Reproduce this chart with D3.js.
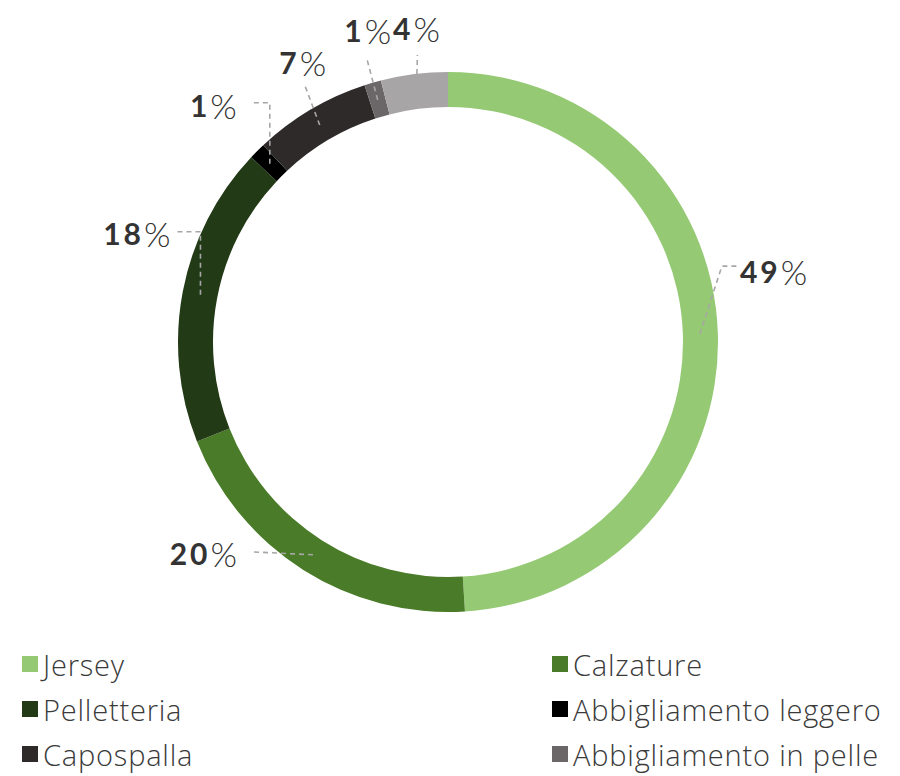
<!DOCTYPE html>
<html>
<head>
<meta charset="utf-8">
<script src="https://cdn.jsdelivr.net/npm/d3@7"></script>
<style>
  body { margin: 0; background: #fff; }
  svg { display: block; }
</style>
</head>
<body>
<svg id="chart"></svg>
<script>
// slices, clockwise from 12 o'clock
let categories = ["Jersey", "Calzature", "Pelletteria", "Abbigliamento leggero", "Capospalla", "Abbigliamento in pelle", "Altro"];
let values = [49, 20, 18, 1, 7, 1, 4];
let colors = ["#95c974", "#4a7b28", "#233a17", "#000000", "#2e2a2a", "#6b6667", "#a8a5a6"];
// legend shows only the first six
let legendItems = categories.slice(0, 6);

// label layout: leader bends relative to the slice centroid, and text anchor
let labelLayout = [
  {pts: [[22, -68], [38, -68]], tx: 40, ty: -63, anchor: "start"},
  {pts: [[-63, -3]], tx: -76, ty: -2, anchor: "end"},
  {pts: [[0, -63], [-25, -63]], tx: -30, ty: -62, anchor: "end"},
  {pts: [[0, -61], [-20, -61]], tx: -33, ty: -59, anchor: "end"},
  {pts: [[-15, -40]], tx: -17, ty: -63, anchor: "middle"},
  {pts: [[-11, -42]], tx: -10, ty: -70, anchor: "middle"},
  {pts: [[1, -37]], tx: 0, ty: -64, anchor: "middle"}
];

let width = 900, height = 776;
let cx = 448, cy = 342;
let outerR = 270, innerR = 235;

let svg = d3.select("#chart")
  .attr("width", width)
  .attr("height", height)
  .attr("viewBox", [0, 0, width, height]);

let pie = d3.pie().sort(null).value(d => d);
let arcs = pie(values);

let arc = d3.arc().innerRadius(innerR).outerRadius(outerR);
let midArc = d3.arc().innerRadius(252).outerRadius(252);

let g = svg.append("g").attr("transform", `translate(${cx},${cy})`);

g.selectAll("path.slice")
  .data(arcs)
  .join("path")
  .attr("class", "slice")
  .attr("d", arc)
  .attr("fill", (d, i) => colors[i]);

// leader lines
let line = d3.line();
g.selectAll("path.leader")
  .data(arcs)
  .join("path")
  .attr("class", "leader")
  .attr("fill", "none")
  .attr("stroke", "#a6a6a6")
  .attr("stroke-width", 1.6)
  .attr("stroke-dasharray", "5,4")
  .attr("d", (d, i) => {
    let c = midArc.centroid(d);
    let pts = [c].concat(labelLayout[i].pts.map(p => [c[0] + p[0], c[1] + p[1]]));
    return line(pts);
  });

// percentage labels
let labels = g.selectAll("text.pct")
  .data(arcs)
  .join("text")
  .attr("class", "pct")
  .attr("font-family", "Lato, 'Open Sans', sans-serif")
  .attr("font-size", 30)
  .attr("fill", "#333333")
  .attr("dominant-baseline", "central")
  .attr("text-anchor", (d, i) => labelLayout[i].anchor)
  .attr("x", (d, i) => midArc.centroid(d)[0] + labelLayout[i].tx)
  .attr("y", (d, i) => midArc.centroid(d)[1] + labelLayout[i].ty);

labels.append("tspan")
  .attr("font-weight", 700)
  .attr("letter-spacing", 3)
  .text(d => d.data);
labels.append("tspan")
  .attr("font-weight", 300)
  .attr("font-size", 34)
  .text("%");

// legend
let colX = d3.scaleOrdinal().domain([0, 1]).range([22, 552]);
let rowY = d3.scalePoint().domain([0, 1, 2]).range([664, 754]);

let leg = svg.append("g")
  .selectAll("g")
  .data(legendItems)
  .join("g")
  .attr("transform", (d, i) => `translate(${colX(i % 2)},${rowY(Math.floor(i / 2))})`);

leg.append("rect")
  .attr("x", 0)
  .attr("y", -8)
  .attr("width", 16)
  .attr("height", 16)
  .attr("fill", (d, i) => colors[i]);

leg.append("text")
  .attr("x", 21)
  .attr("y", 0)
  .attr("dominant-baseline", "central")
  .attr("font-family", "'Open Sans', sans-serif")
  .attr("font-weight", 300)
  .attr("font-size", 29)
  .attr("letter-spacing", 0.8)
  .attr("fill", "#3a3a3a")
  .text(d => d);
</script>
</body>
</html>
